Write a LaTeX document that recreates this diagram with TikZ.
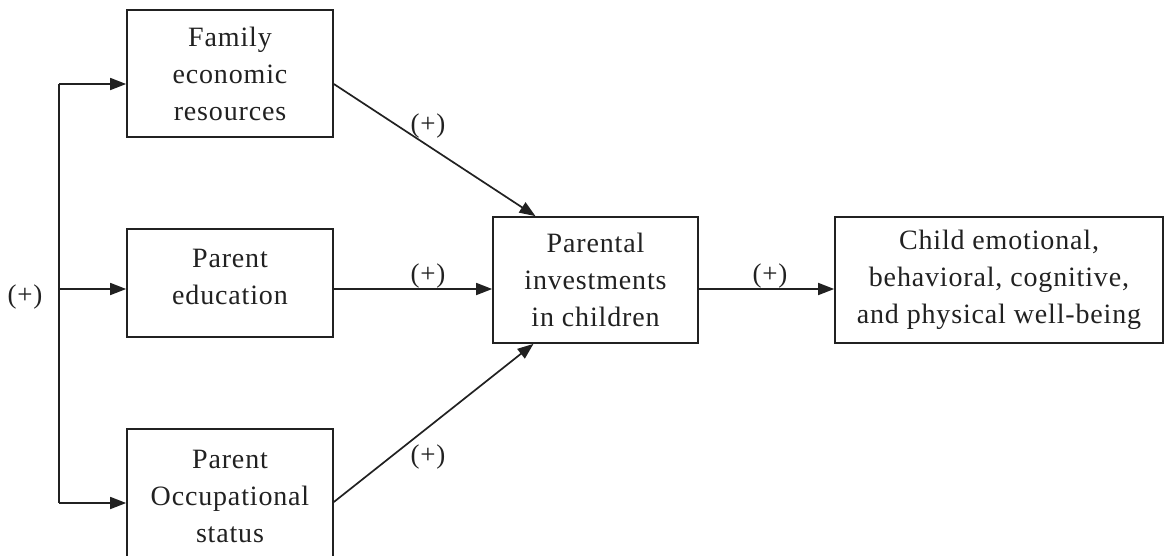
\documentclass[tikz,border=0pt]{standalone}
\usepackage{fontspec}
\setmainfont{Liberation Serif}[LetterSpace=3]
\usetikzlibrary{arrows.meta,calc}
\definecolor{ink}{gray}{0.13}
\begin{document}
\begin{tikzpicture}[x=1pt,y=-1pt,
  box/.style={draw=ink,line width=1.7pt,fill=white,inner sep=0pt,
    align=center,text=ink,font=\fontsize{28}{37}\selectfont},
  arr/.style={draw=ink,line width=1.7pt,
    -{Triangle[length=16pt,width=12pt]}},
  link/.style={draw=ink,line width=1.7pt},
  sign/.style={text=ink,font=\fontsize{27}{30}\selectfont,inner sep=0pt}]
\clip (0,0) rectangle (1171,555);
\fill[white] (0,0) rectangle (1171,555);

% factor boxes
\node[box,minimum width=206pt,minimum height=127pt] (fam) at (230,73.5)
  {Family\\economic\\resources};
\node[box,minimum width=206pt,minimum height=108pt] (edu) at (230,283)
  {Parent\\education\rule[-13pt]{0pt}{0pt}};
\node[box,minimum width=206pt,minimum height=134pt] (occ) at (230,496)
  {Parent\\Occupational\\status};

% mediator and outcome
\node[box,minimum width=205pt,minimum height=126pt] (par) at (595.5,280)
  {Parental\\investments\\in children};
\node[box,minimum width=328pt,minimum height=126pt] (child) at (999,280)
  {Child emotional,\\behavioral, cognitive,\\and physical well-being};

% common trunk feeding the three factors
\coordinate (trunkTop) at (59,84);
\coordinate (trunkMid) at (59,289);
\coordinate (trunkBot) at (59,503);
\draw[link] (trunkTop) -- (trunkBot);
\draw[arr] (trunkTop) -- (fam.west |- trunkTop);
\draw[arr] (trunkMid) -- (edu.west |- trunkMid);
\draw[arr] (trunkBot) -- (occ.west |- trunkBot);

% paths into and out of the mediator
\draw[arr] ([yshift=-10.5pt]fam.east) -- ([xshift=-60pt]par.north);
\draw[arr] (edu.east |- trunkMid) -- (par.west |- trunkMid);
\draw[arr] ([yshift=-6pt]occ.east) -- ([xshift=-62pt]par.south);
\draw[arr] (par.east |- trunkMid) -- (child.west |- trunkMid);

% signs
\node[sign] (s0) at (25,297) {(+)};
\node[sign] (s1) at (428,126) {(+)};
\node[sign] (s2) at (428,276) {(+)};
\node[sign] (s3) at (428,457) {(+)};
\node[sign] (s4) at (770,276) {(+)};
\end{tikzpicture}
\end{document}
